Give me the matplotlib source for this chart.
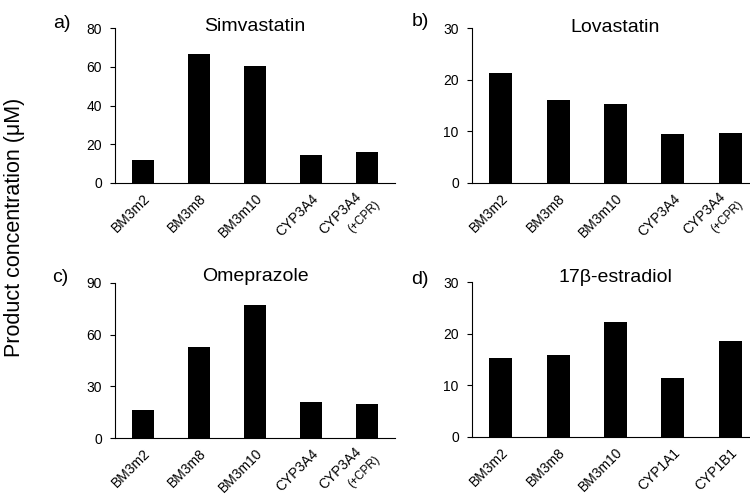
import matplotlib
matplotlib.use("Agg")
import matplotlib.pyplot as plt

plt.rcParams['font.family'] = ['Liberation Sans', 'DejaVu Sans']

# === Data ===
cats_statin = ["BM3m2", "BM3m8", "BM3m10", "CYP3A4", "CYP3A4"]
cats_estradiol = ["BM3m2", "BM3m8", "BM3m10", "CYP1A1", "CYP1B1"]

simvastatin = [12.0, 66.5, 60.2, 14.6, 16.0]
lovastatin = [21.2, 16.1, 15.2, 9.4, 9.6]
omeprazole = [16.5, 52.6, 77.0, 20.9, 19.7]
estradiol = [15.2, 15.8, 22.3, 11.5, 18.6]

panels = [
    ("a)", "Simvastatin", cats_statin, simvastatin, [0, 20, 40, 60, 80], True),
    ("b)", "Lovastatin", cats_statin, lovastatin, [0, 10, 20, 30], True),
    ("c)", "Omeprazole", cats_statin, omeprazole, [0, 30, 60, 90], True),
    ("d)", "17\u03b2-estradiol", cats_estradiol, estradiol, [0, 10, 20, 30], False),
]

W, H = 750, 503
fig = plt.figure(figsize=(7.5, 5.03), dpi=100)

# axes boxes in pixels: left, top, right, bottom (right panels run past the edge)
boxes = [(115, 28, 395, 183), (472, 28, 759, 183),
         (115, 283, 395, 438), (472, 282, 759, 437)]
letter_pos = [(62, 24), (420, 21), (60, 278), (420, 279)]
title_y = [0.98, 0.975, 1.015, 1.0]

for (letter, title, cats, vals, yticks, cpr), box, lp, ty in zip(panels, boxes, letter_pos, title_y):
    l, t, r, b = box
    ax = fig.add_axes([l / W, 1 - b / H, (r - l) / W, (b - t) / H])
    x = list(range(len(cats)))
    ax.bar(x, vals, width=0.4, color='black')
    ax.set_xlim(-0.5, len(cats) - 0.5)
    ax.set_ylim(yticks[0], yticks[-1])
    ax.set_yticks(yticks)
    ax.spines['top'].set_visible(False)
    ax.spines['right'].set_visible(False)
    for s in ['left', 'bottom']:
        ax.spines[s].set_linewidth(0.8)
    ax.tick_params(axis='y', direction='out', length=3.5, width=0.8, labelsize=10, pad=6)
    ax.tick_params(axis='x', length=0, pad=6)
    ax.set_xticks(x)
    labels = list(cats)
    if cpr:
        labels[-1] = ""
    ax.set_xticklabels(labels, rotation=45, ha='right', va='top',
                       rotation_mode='anchor', fontsize=10)
    if cpr:
        # second line "(+CPR)" sits below the last label, smaller
        trans = ax.get_xaxis_transform()
        ax.annotate(cats[-1], xy=(x[-1], 0), xycoords=trans, xytext=(-9, -4.5),
                    textcoords='offset points', rotation=45, rotation_mode='anchor',
                    ha='right', va='top', fontsize=10)
        ax.annotate("(+CPR)", xy=(x[-1], 0), xycoords=trans, xytext=(5, -11),
                    textcoords='offset points', rotation=45, rotation_mode='anchor',
                    ha='right', va='top', fontsize=8.5)
    ax.text(0.5, ty, title, transform=ax.transAxes, ha='center', va='baseline',
            fontsize=14)
    fig.text(lp[0] / W, 1 - lp[1] / H, letter, ha='center', va='center', fontsize=14)

fig.text(15 / W, 1 - 227 / H, "Product concentration (\u03bcM)", rotation=90,
         ha='center', va='center', fontsize=15.5)

fig.savefig("out.png", dpi=100)
